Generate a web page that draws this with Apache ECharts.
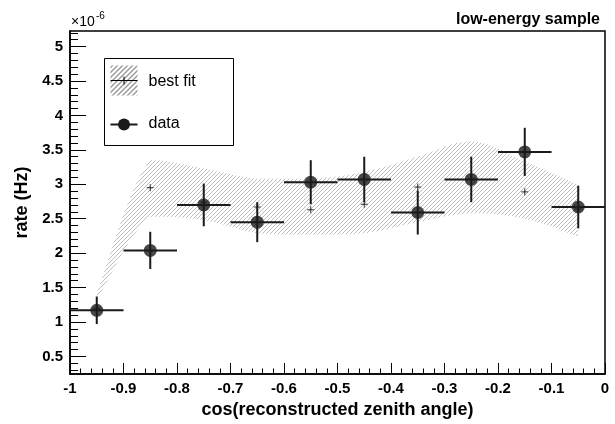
<!DOCTYPE html>
<html>
<head>
<meta charset="utf-8">
<script src="https://cdn.jsdelivr.net/npm/echarts@6/dist/echarts.min.js"></script>
<style>
  html, body { margin: 0; padding: 0; background: #fff; }
  #chart { width: 615px; height: 424px; }
</style>
</head>
<body>
<div id="chart"></div>
<script>
// bin centres of cos(zenith), 10 bins of width 0.1
const binCenters = [-0.95, -0.85, -0.75, -0.65, -0.55, -0.45, -0.35, -0.25, -0.15, -0.05];
const binHalfWidth = 0.05;

// measured rate (x1e-6 Hz) and its error
const dataRate = [1.17, 2.04, 2.70, 2.45, 3.03, 3.07, 2.59, 3.07, 3.47, 2.67];
const dataErr = [0.20, 0.27, 0.31, 0.29, 0.32, 0.33, 0.32, 0.33, 0.35, 0.31];

// best fit points and its uncertainty band
const bestFit = [1.20, 2.95, 2.74, 2.67, 2.63, 2.71, 2.96, 3.08, 2.89, 2.64];
const bandLow = [1.32, 2.53, 2.48, 2.29, 2.27, 2.29, 2.45, 2.58, 2.50, 2.24];
const bandHigh = [1.42, 3.35, 3.23, 3.08, 3.08, 3.18, 3.40, 3.62, 3.33, 2.99];

// y tick labels
const yMajorTicks = [0.5, 1, 1.5, 2, 2.5, 3, 3.5, 4, 4.5, 5];

const yMinorTicks = [];
for (let i = 3; i <= 52; i++) {
  if (i % 5 !== 0) yMinorTicks.push(i / 10);
}

function makeHatch(color, size, width) {
  const c = document.createElement('canvas');
  c.width = size;
  c.height = size;
  const g = c.getContext('2d');
  g.strokeStyle = color;
  g.lineWidth = width;
  g.beginPath();
  for (const k of [-size, 0, size]) {
    g.moveTo(k, size);
    g.lineTo(k + size, 0);
  }
  g.stroke();
  return c;
}

const bandPattern = { image: makeHatch('#adadad', 4, 0.8), repeat: 'repeat' };
const legendPattern = { image: makeHatch('#333', 5, 1), repeat: 'repeat' };

function clamp(v, a, b) {
  return Math.min(Math.max(v, Math.min(a, b)), Math.max(a, b));
}

// curve through pixel points, control points kept inside each segment (no overshoot)
function curveThrough(pts, start) {
  const s = 0.2;
  let d = start + pts[0][0] + ',' + pts[0][1];
  for (let i = 0; i < pts.length - 1; i++) {
    const p0 = pts[Math.max(i - 1, 0)];
    const p1 = pts[i];
    const p2 = pts[i + 1];
    const p3 = pts[Math.min(i + 2, pts.length - 1)];
    const c1 = [p1[0] + (p2[0] - p0[0]) * s, clamp(p1[1] + (p2[1] - p0[1]) * s, p1[1], p2[1])];
    const c2 = [p2[0] - (p3[0] - p1[0]) * s, clamp(p2[1] - (p3[1] - p1[1]) * s, p1[1], p2[1])];
    d += ' C' + c1.join(',') + ' ' + c2.join(',') + ' ' + p2.join(',');
  }
  return d;
}

const font = 'Liberation Sans, Arial, Helvetica, sans-serif';

const chart = echarts.init(document.getElementById('chart'));

chart.setOption({
  animation: false,
  textStyle: { fontFamily: font },
  grid: {
    left: 70,
    right: 10,
    top: 31,
    bottom: 47,
    show: true,
    borderColor: '#000',
    borderWidth: 1.5,
    backgroundColor: 'transparent'
  },
  title: {
    text: 'low-energy sample',
    right: 10,
    top: 7,
    textStyle: { fontSize: 16, fontWeight: 'bold', color: '#000', fontFamily: font }
  },
  xAxis: {
    type: 'value',
    min: -1,
    max: 0,
    interval: 0.1,
    z: 10,
    name: 'cos(reconstructed zenith angle)',
    nameLocation: 'middle',
    nameGap: 27,
    nameTextStyle: { fontSize: 18, fontWeight: 'bold', color: '#000', verticalAlign: 'top' },
    axisLine: { onZero: false, lineStyle: { color: '#000', width: 1.5 } },
    axisTick: { inside: true, length: 11, lineStyle: { color: '#000', width: 1 } },
    minorTick: { show: true, splitNumber: 5, length: 5.5, lineStyle: { color: '#000', width: 1 } },
    axisLabel: { fontSize: 15, fontWeight: 'bold', color: '#000', margin: 7 },
    splitLine: { show: false }
  },
  yAxis: [
    {
      type: 'value',
      min: 0.245,
      max: 5.226,
      z: 10,
      name: 'rate (Hz)',
      nameLocation: 'middle',
      nameGap: 37,
      nameTextStyle: { fontSize: 18, fontWeight: 'bold', color: '#000' },
      axisLine: { show: true, onZero: false, lineStyle: { color: '#000', width: 1.5 } },
      axisTick: { show: true, inside: true, length: 16, customValues: yMajorTicks, lineStyle: { color: '#000', width: 1 } },
      axisLabel: { customValues: yMajorTicks, fontSize: 15, fontWeight: 'bold', color: '#000', margin: 7 },
      splitLine: { show: false }
    },
    {
      type: 'value',
      min: 0.245,
      max: 5.226,
      z: 10,
      position: 'left',
      axisLine: { show: false, onZero: false },
      axisTick: { show: true, inside: true, length: 8, customValues: yMinorTicks, lineStyle: { color: '#000', width: 1 } },
      axisLabel: { show: false },
      splitLine: { show: false }
    }
  ],
  graphic: [
    { type: 'text', left: 71, top: 15, style: { text: '×10', fill: '#000', font: '14px ' + font } },
    { type: 'text', left: 96, top: 11, style: { text: '-6', fill: '#000', font: '10px ' + font } },
    {
      type: 'group',
      left: 104,
      top: 58,
      children: [
        { type: 'rect', shape: { x: 0, y: 0, width: 129, height: 87 }, style: { fill: '#fff', stroke: '#000', lineWidth: 1 } },
        { type: 'rect', shape: { x: 6, y: 7, width: 27, height: 30 }, style: { fill: legendPattern } },
        { type: 'line', shape: { x1: 6, y1: 22, x2: 33, y2: 22 }, style: { stroke: '#000', lineWidth: 1 } },
        { type: 'line', shape: { x1: 19.5, y1: 18, x2: 19.5, y2: 26 }, style: { stroke: '#000', lineWidth: 1 } },
        { type: 'text', x: 44, y: 23, style: { text: 'best fit', font: '16px ' + font, fill: '#000', verticalAlign: 'middle' } },
        { type: 'line', shape: { x1: 6, y1: 66, x2: 33, y2: 66 }, style: { stroke: '#1a1a1a', lineWidth: 2 } },
        { type: 'circle', shape: { cx: 19.5, cy: 66, r: 6 }, style: { fill: '#1a1a1a' } },
        { type: 'text', x: 44, y: 65, style: { text: 'data', font: '16px ' + font, fill: '#000', verticalAlign: 'middle' } }
      ]
    }
  ],
  series: [
    {
      // hatched band between bandLow and bandHigh, drawn once as a single path
      name: 'best fit band',
      type: 'custom',
      data: binCenters.map((x, i) => [x, bandLow[i], bandHigh[i]]),
      encode: { x: 0, y: [1, 2] },
      renderItem: function (params, api) {
        if (params.dataIndex !== 0) return null;
        const upper = binCenters.map((x, i) => api.coord([x, bandHigh[i]]));
        const lower = binCenters.map((x, i) => api.coord([x, bandLow[i]])).reverse();
        const d = curveThrough(upper, 'M') + ' ' + curveThrough(lower, 'L') + ' Z';
        return { type: 'path', shape: { pathData: d }, style: { fill: bandPattern } };
      },
      z: 1
    },
    {
      name: 'best fit',
      type: 'scatter',
      data: binCenters.map((x, i) => [x, bestFit[i]]),
      symbol: 'path://M0,5L10,5M5,0L5,10',
      symbolSize: 7,
      itemStyle: { color: 'none', borderColor: '#000', borderWidth: 1 },
      z: 2
    },
    {
      name: 'data errors',
      type: 'custom',
      data: binCenters.map((x, i) => [x, dataRate[i], dataErr[i]]),
      encode: { x: 0, y: 1 },
      renderItem: function (params, api) {
        const x = api.value(0);
        const y = api.value(1);
        const e = api.value(2);
        const l = api.coord([x - binHalfWidth, y]);
        const r = api.coord([x + binHalfWidth, y]);
        const t = api.coord([x, y + e]);
        const b = api.coord([x, y - e]);
        const style = { stroke: '#1a1a1a', lineWidth: 2 };
        return {
          type: 'group',
          children: [
            { type: 'line', shape: { x1: l[0], y1: l[1], x2: r[0], y2: r[1] }, style: style },
            { type: 'line', shape: { x1: t[0], y1: t[1], x2: b[0], y2: b[1] }, style: style }
          ]
        };
      },
      z: 3
    },
    {
      name: 'data',
      type: 'scatter',
      data: binCenters.map((x, i) => [x, dataRate[i]]),
      symbol: 'circle',
      symbolSize: 13,
      itemStyle: { color: '#1a1a1a' },
      z: 4
    }
  ]
});
</script>
</body>
</html>
